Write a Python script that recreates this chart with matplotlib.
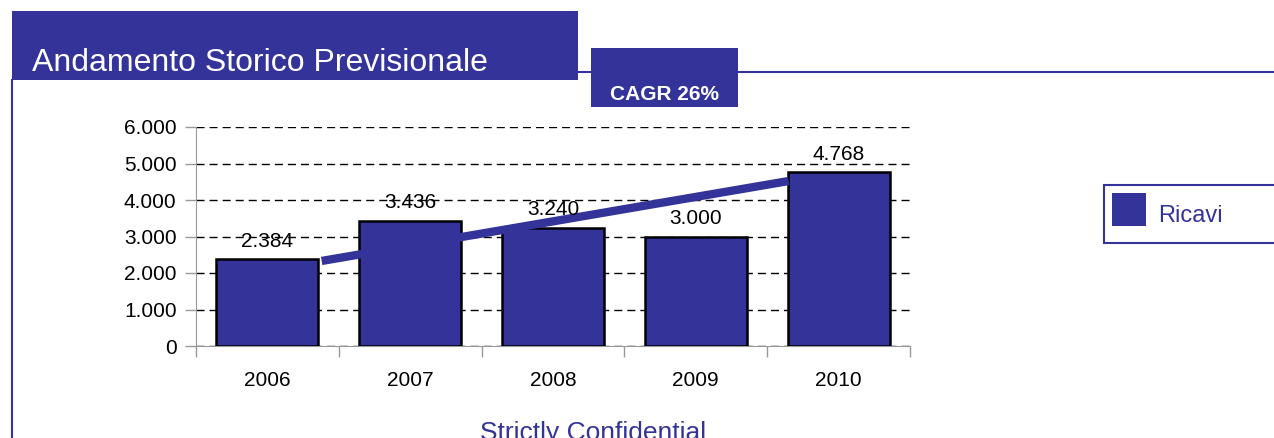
import matplotlib
matplotlib.use("Agg")
import matplotlib.pyplot as plt
from matplotlib.patches import Rectangle
from matplotlib.lines import Line2D

plt.rcParams['font.family'] = ['Liberation Sans', 'DejaVu Sans']

# ---- data ----
years = ["2006", "2007", "2008", "2009", "2010"]
ricavi = [2384, 3436, 3240, 3000, 4768]
value_labels = ["2.384", "3.436", "3.240", "3.000", "4.768"]
y_ticks = [0, 1000, 2000, 3000, 4000, 5000, 6000]
y_tick_labels = ["0", "1.000", "2.000", "3.000", "4.000", "5.000", "6.000"]
trend_x = [0.38, 3.65]      # category coordinates of the CAGR trend arrow
trend_y = [2330, 4520]
title = "Andamento Storico Previsionale"
cagr_text = "CAGR 26%"
legend_label = "Ricavi"
footer = "Strictly Confidential"

BLUE = "#333399"
W, H = 1274, 438

fig = plt.figure(figsize=(W / 100, H / 100), dpi=100)
fig.patch.set_facecolor("white")

# overlay axes in pixel coordinates for decorations
bg = fig.add_axes([0, 0, 1, 1])
bg.set_xlim(0, W)
bg.set_ylim(H, 0)
bg.axis("off")

# horizontal rule and left border
bg.add_line(Line2D([578, W], [72, 72], color=BLUE, lw=1.5))
bg.add_line(Line2D([12, 12], [80, H], color=BLUE, lw=1.5))
# title box
bg.add_patch(Rectangle((12, 11), 566, 69, facecolor=BLUE, edgecolor="none"))
bg.text(32, 71, title, color="white", fontsize=23, va="baseline", ha="left")
# CAGR box
bg.add_patch(Rectangle((591, 48), 147, 59, facecolor=BLUE, edgecolor="none", zorder=3))
bg.text(664.5, 94, cagr_text, color="white", fontsize=15, fontweight="bold",
        va="center", ha="center", zorder=4)
# legend box
bg.add_patch(Rectangle((1104, 185), 200, 58, facecolor="white", edgecolor=BLUE, lw=1.5))
bg.add_patch(Rectangle((1112, 193), 34, 33, facecolor=BLUE, edgecolor="none"))
bg.text(1158, 222, legend_label, color=BLUE, fontsize=17, va="baseline", ha="left")
# footer (cut off at the bottom edge, as in the original slide)
bg.text(593, 440, footer, color=BLUE, fontsize=19, va="baseline", ha="center")

# ---- main chart ----
left, right, top, bottom = 196, 910, 127, 346
ax = fig.add_axes([left / W, (H - bottom) / H, (right - left) / W, (bottom - top) / H])
ax.patch.set_alpha(0)
x = list(range(len(years)))
ax.bar(x, ricavi, width=0.715, color=BLUE, edgecolor="black", linewidth=1.8, zorder=3)
ax.plot(trend_x, trend_y, color=BLUE, lw=6, solid_capstyle="butt", zorder=4)
for xi, v, lab in zip(x, ricavi, value_labels):
    ax.annotate(lab, (xi, v), xytext=(0, 6), textcoords="offset points",
                ha="center", va="bottom", fontsize=15, zorder=5)

ax.set_xlim(-0.5, len(years) - 0.5)
ax.set_ylim(0, 6000)
ax.set_yticks(y_ticks)
ax.set_yticklabels(y_tick_labels)
ax.set_xticks(x)
ax.set_xticklabels(years)
ax.set_xticks([i - 0.5 for i in range(len(years) + 1)], minor=True)
ax.tick_params(axis="y", length=8, width=1, color="#999999", pad=6, labelsize=15)
ax.tick_params(axis="x", which="major", length=0, pad=18, labelsize=15)
ax.tick_params(axis="x", which="minor", length=8, width=1, color="#999999")
ax.yaxis.grid(True, color="black", linestyle=(0, (5.8, 3.6)), lw=1)
ax.set_axisbelow(True)
for s in ["top", "right"]:
    ax.spines[s].set_visible(False)
ax.spines["left"].set_color("#999999")
ax.spines["bottom"].set_color("#999999")

fig.savefig("out.png", dpi=100)
